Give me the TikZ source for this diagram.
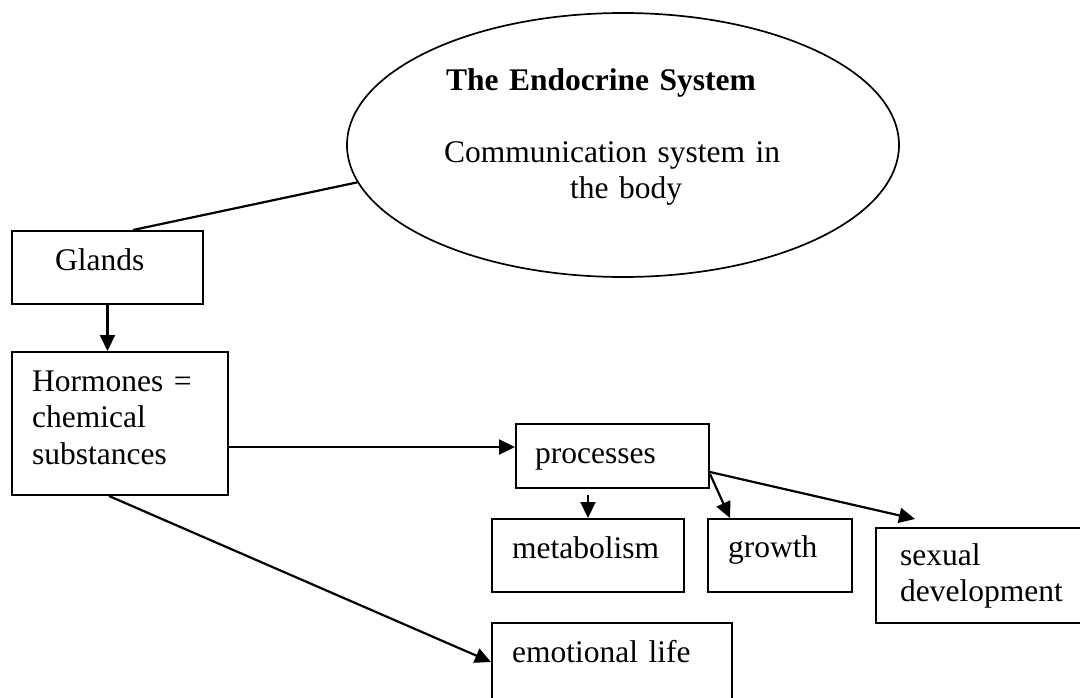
\documentclass[tikz,border=0pt]{standalone}
\usepackage{fontspec}
\setmainfont{Liberation Serif}
\usetikzlibrary{arrows.meta,shapes.geometric,calc}
\begin{document}
\begin{tikzpicture}[x=1pt,y=-1pt,
  box/.style={draw, line width=2pt, rectangle, inner sep=0pt, anchor=north west},
  oval/.style={draw, ellipse, line width=1.7pt, inner sep=0pt},
  lbl/.style={anchor=base west, inner sep=0pt, text width=400pt, align=left,
              font=\fontsize{31.5}{36.5}\selectfont},
  ttl/.style={lbl, font=\fontsize{31.5}{36.5}\selectfont\bfseries},
  link/.style={line width=2.2pt},
  arr/.style={link, -{Triangle[length=16pt,width=15pt]}},
]
\useasboundingbox (0,0) rectangle (1080,697);
\clip (0,0) rectangle (1080,697);
\fill[white] (0,0) rectangle (1080,697);

% the central oval and its texts
\node[oval, minimum width=552pt, minimum height=264pt] (endo) at (623,145) {};
\node[ttl] (title) at (446,90) {The Endocrine System};
\node[lbl] (comm) at (444,162) {Communication system in};
\node[lbl] (body) at (570,198) {the body};

% boxes
\node[box, minimum width=191pt, minimum height=73pt]  (glands)     at (11,230)  {};
\node[box, minimum width=216pt, minimum height=143pt] (hormones)   at (11,351)  {};
\node[box, minimum width=193pt, minimum height=64pt]  (processes)  at (515,423) {};
\node[box, minimum width=192pt, minimum height=73pt]  (metabolism) at (491,518) {};
\node[box, minimum width=144pt, minimum height=73pt]  (growth)     at (707,518) {};
\node[box, minimum width=230pt, minimum height=95pt]  (sexual)     at (875,527) {};
\node[box, minimum width=240pt, minimum height=110pt] (emotional)  at (491,622) {};

% box texts
\node[lbl] (glands-t)     at (55,270)  {Glands};
\node[lbl] (hormones-t)   at (32,391)  {Hormones =\\chemical\\substances};
\node[lbl] (processes-t)  at (535,463) {processes};
\node[lbl] (metabolism-t) at (512,558) {metabolism};
\node[lbl] (growth-t)     at (728,557) {growth};
\node[lbl] (sexual-t)     at (900,565) {sexual\\development};
\node[lbl] (emotional-t)  at (512,662) {emotional life};

% connectors
\draw[link] ($(glands.north west)+(122,0)$) -- (endo.188);
\draw[arr] (glands.south) -- (glands.south |- hormones.north);
\coordinate (pin) at ($(processes.west)+(0,-9)$);
\draw[arr] (hormones.east |- pin) -- (pin);
\draw[arr] ($(hormones.south)+(-11,0)$) -- ($(emotional.north west)+(0,40)$);
\draw[arr] ($(metabolism.north)+(0,-23)$) -- (metabolism.north);
\draw[arr] ($(processes.south east)+(0,-15)$) -- ($(growth.north west)+(23,0)$);
\draw[arr] ($(processes.south east)+(0,-17)$) -- ($(sexual.north west)+(40,-8)$);
\end{tikzpicture}
\end{document}
